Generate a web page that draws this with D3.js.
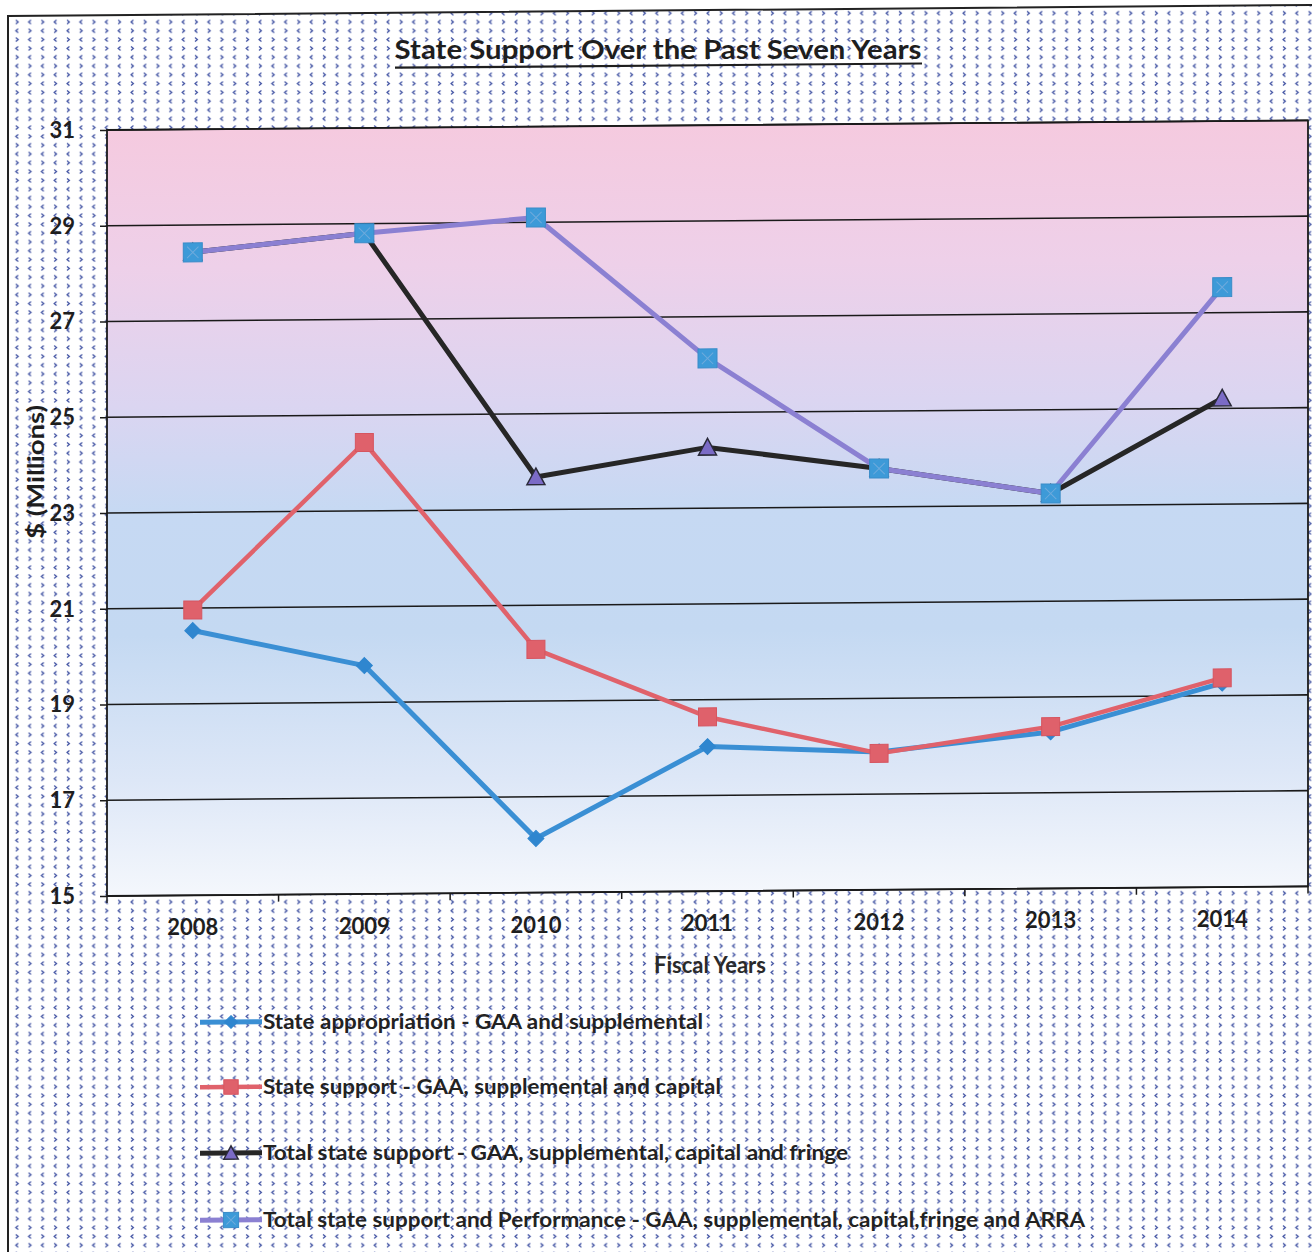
<!DOCTYPE html>
<html>
<head>
<meta charset="utf-8">
<script src="https://cdn.jsdelivr.net/npm/d3@7"></script>
<style>
  html, body { margin: 0; padding: 0; background: #fff; }
  svg { display: block; font-family: Lato, "Open Sans", sans-serif; }
</style>
</head>
<body>
<svg id="chart" width="1312" height="1252"></svg>
<script>
const years = ['2008', '2009', '2010', '2011', '2012', '2013', '2014']
const stateAppropriation = [20.53, 19.77, 16.13, 18.02, 17.88, 18.27, 19.26]
const stateSupport = [20.96, 24.43, 20.08, 18.64, 17.85, 18.38, 19.37]
const totalSupport = [28.43, 28.80, 23.68, 24.27, 23.80, 23.25, 25.21]
const totalPerformance = [28.43, 28.80, 29.10, 26.13, 23.80, 23.25, 27.53]
const yTicks = [15, 17, 19, 21, 23, 25, 27, 29, 31]
const seriesNames = [
    'State appropriation - GAA and supplemental',
    'State support - GAA, supplemental and capital',
    'Total state support - GAA, supplemental, capital and fringe',
    'Total state support and Performance - GAA, supplemental, capital,fringe and ARRA'
]

const width = 1312, height = 1252
const margin = {top: 130, right: 4, bottom: 356, left: 107}
const innerWidth = width - margin.left - margin.right
const innerHeight = height - margin.top - margin.bottom

// the scan is slightly skewed; pivot at the plot's left edge
const skew = 0.008
const sy = (x, y) => y - skew * (x - margin.left)

const svg = d3.select('#chart')
const defs = svg.append('defs')

// chevron fill of the chart area
const pat = defs.append('pattern')
    .attr('id', 'chevrons')
    .attr('patternUnits', 'userSpaceOnUse')
    .attr('width', 25.6).attr('height', 17.6)
const chev = (x, y, dir) => dir < 0
    ? `M${x+2.4},${y-2}L${x},${y}L${x+2.4},${y+2}`
    : `M${x},${y-2}L${x+2.4},${y}L${x},${y+2}`
;[[3, 4.4, -1], [15.8, 4.4, 1], [3, 13.2, 1], [15.8, 13.2, -1]].forEach(([x, y, d]) => {
    pat.append('path').attr('d', chev(x, y, d))
        .attr('fill', 'none').attr('stroke', '#34479c').attr('stroke-width', 1.2)
})

const grad = defs.append('linearGradient')
    .attr('id', 'plotbg').attr('x1', 0).attr('y1', 0).attr('x2', 0).attr('y2', 1)
;[[0, '#f5cadf'], [0.18, '#eed0e9'], [0.36, '#dbd5f1'], [0.5, '#c6d9f3'],
  [0.66, '#c4d9f2'], [0.85, '#dde7f7'], [1, '#f4f7fc']].forEach(([o, c]) => {
    grad.append('stop').attr('offset', o).attr('stop-color', c)
})

// chart area fill stays inside the page; only its top and left edges are in view
svg.append('path')
    .attr('d', `M8,16L${width},5L${width},${height}L8,${height}Z`)
    .attr('fill', 'url(#chevrons)')
svg.append('path')
    .attr('d', `M8,${height}L8,16L${width},5`)
    .attr('fill', 'none').attr('stroke', '#222').attr('stroke-width', 2)

const g = svg.append('g')
    .attr('transform', `translate(${margin.left},0) matrix(1,${-skew},0,1,0,0) translate(${-margin.left},0)`)
const tg = svg.append('g')   // texts, placed by hand on the skewed frame

const xScale = d3.scaleBand()
    .domain(years)
    .range([margin.left, margin.left + innerWidth])
const cx = d => xScale(d) + xScale.bandwidth() / 2

const yScale = d3.scaleLinear()
    .domain([15, 31])
    .range([margin.top + innerHeight, margin.top])

// plot area
g.append('rect')
    .attr('x', margin.left).attr('y', margin.top)
    .attr('width', innerWidth).attr('height', innerHeight)
    .attr('fill', 'url(#plotbg)')

// gridlines
g.append('g')
    .selectAll('line')
    .data(yTicks)
    .join('line')
    .attr('x1', margin.left).attr('x2', margin.left + innerWidth)
    .attr('y1', d => yScale(d)).attr('y2', d => yScale(d))
    .attr('stroke', '#1a1a1a').attr('stroke-width', 1.6)

g.append('rect')
    .attr('x', margin.left).attr('y', margin.top)
    .attr('width', innerWidth).attr('height', innerHeight)
    .attr('fill', 'none').attr('stroke', '#1a1a1a').attr('stroke-width', 1.8)

// y axis ticks
const yAxis = g.append('g')
    .attr('transform', `translate(${margin.left},0)`)
    .call(d3.axisLeft(yScale).tickValues(yTicks).tickSize(7).tickFormat(''))
yAxis.select('.domain').remove()
yAxis.selectAll('line').attr('stroke', '#1a1a1a').attr('stroke-width', 1.5)

tg.append('g')
    .selectAll('text')
    .data(yTicks)
    .join('text')
    .attr('x', 75)
    .attr('y', d => sy(75, yScale(d)) + 7.5)
    .attr('text-anchor', 'end')
    .attr('font-size', 22).attr('font-weight', 'bold').attr('fill', '#1e1e1e')
    .text(d => d)

// x axis, ticks sit on the category boundaries
const xAxis = g.append('g')
    .attr('transform', `translate(0,${margin.top + innerHeight})`)
xAxis.selectAll('line.bound')
    .data(years.concat(['end']))
    .join('line')
    .attr('class', 'bound')
    .attr('x1', (d, i) => margin.left + i * xScale.step())
    .attr('x2', (d, i) => margin.left + i * xScale.step())
    .attr('y1', 0).attr('y2', 7)
    .attr('stroke', '#1a1a1a').attr('stroke-width', 1.5)

tg.append('g')
    .selectAll('text')
    .data(years)
    .join('text')
    .attr('x', d => cx(d))
    .attr('y', d => sy(cx(d), margin.top + innerHeight + 40))
    .attr('text-anchor', 'middle')
    .attr('font-size', 22).attr('font-weight', 'bold').attr('fill', '#1e1e1e')
    .text(d => d)

// axis titles
tg.append('text')
    .attr('x', 710).attr('y', sy(710, 978))
    .attr('text-anchor', 'middle')
    .attr('font-size', 22).attr('font-weight', 'bold').attr('fill', '#2a2a2a')
    .text('Fiscal Years')

tg.append('text')
    .attr('transform', 'translate(44,472) rotate(-90)')
    .attr('text-anchor', 'middle')
    .attr('font-size', 23).attr('font-weight', 'bold').attr('fill', '#1e1e1e')
    .attr('textLength', 134).attr('lengthAdjust', 'spacingAndGlyphs')
    .text('$ (Millions)')

// title
tg.append('text')
    .attr('x', 658).attr('y', sy(658, 63))
    .attr('text-anchor', 'middle')
    .attr('font-size', 26).attr('font-weight', 'bold').attr('fill', '#1e1e1e')
    .attr('textLength', 527).attr('lengthAdjust', 'spacingAndGlyphs')
    .text('State Support Over the Past Seven Years')
g.append('line')
    .attr('x1', 395).attr('x2', 922).attr('y1', 70).attr('y2', 70)
    .attr('stroke', '#1e1e1e').attr('stroke-width', 2.2)

const series = [
    {name: seriesNames[0], values: stateAppropriation, line: '#3a8fd4', width: 5, shape: 'diamond', fill: '#2f86cf', stroke: '#2f86cf', size: 16},
    {name: seriesNames[1], values: stateSupport, line: '#e0626b', width: 4.5, shape: 'square', fill: '#df616b', stroke: '#d65560', size: 18},
    {name: seriesNames[2], values: totalSupport, line: '#262626', width: 5, shape: 'triangle', fill: '#7b6bc6', stroke: '#2a2a3a', size: 18},
    {name: seriesNames[3], values: totalPerformance, line: '#8b80d2', width: 5, shape: 'square', fill: '#3d9ad8', stroke: '#3a8cc8', size: 19, cross: true}
]

function drawMarker(sel, s, size) {
    const h = size / 2
    if (s.shape === 'diamond') {
        sel.append('path').attr('d', `M0,${-h}L${h},0L0,${h}L${-h},0Z`)
            .attr('fill', s.fill).attr('stroke', s.stroke).attr('stroke-width', 1)
    } else if (s.shape === 'square') {
        sel.append('rect').attr('x', -h).attr('y', -h).attr('width', size).attr('height', size)
            .attr('fill', s.fill).attr('stroke', s.stroke).attr('stroke-width', 1)
        if (s.cross) {
            sel.append('path').attr('d', `M${-h*0.6},${-h*0.6}L${h*0.6},${h*0.6}M${h*0.6},${-h*0.6}L${-h*0.6},${h*0.6}`)
                .attr('stroke', '#8fb6e0').attr('stroke-width', 1).attr('opacity', 0.6)
        }
    } else {
        sel.append('path').attr('d', `M0,${-h}L${h},${h*0.85}L${-h},${h*0.85}Z`)
            .attr('fill', s.fill).attr('stroke', s.stroke).attr('stroke-width', 1.5)
    }
}

const line = d3.line()
    .x((d, i) => cx(years[i]))
    .y(d => yScale(d))

series.forEach(s => {
    const sg = g.append('g')
    sg.append('path')
        .datum(s.values)
        .attr('fill', 'none')
        .attr('stroke', s.line)
        .attr('stroke-width', s.width)
        .attr('stroke-linejoin', 'round')
        .attr('d', line)
    sg.selectAll('g.pt')
        .data(s.values)
        .join('g')
        .attr('class', 'pt')
        .attr('transform', (d, i) => `translate(${cx(years[i])},${yScale(d)})`)
        .each(function () { drawMarker(d3.select(this), s, s.size) })
})

// legend
const legendY = [1023, 1088, 1154, 1221]
const legendLen = [440, 458, 585, 822]
series.forEach((s, i) => {
    const lg = g.append('g').attr('transform', `translate(200,${legendY[i]})`)
    lg.append('line')
        .attr('x1', 0).attr('x2', 62).attr('y1', 0).attr('y2', 0)
        .attr('stroke', s.line).attr('stroke-width', s.width)
    const m = lg.append('g').attr('transform', 'translate(31,0)')
    drawMarker(m, s, s.size * 0.8)
    tg.append('text')
        .attr('x', 263).attr('y', sy(263, legendY[i] + 7))
        .attr('font-size', 20).attr('font-weight', 'bold').attr('fill', '#222')
        .attr('textLength', legendLen[i]).attr('lengthAdjust', 'spacingAndGlyphs')
        .text(s.name)
})
</script>
</body>
</html>
